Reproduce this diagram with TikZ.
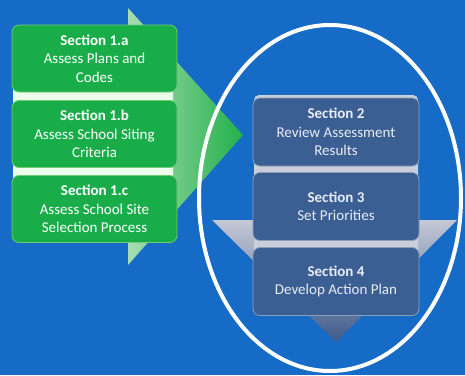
\documentclass[tikz,border=0pt]{standalone}
\usepackage{fontspec}
\setmainfont{Carlito}
\begin{document}
\begin{tikzpicture}[x=1pt,y=-1pt,
  greenbox/.style={draw=green!45!white!80!black, line width=0.8pt, fill=gbox, rounded corners=7pt, minimum width=165pt, minimum height=67pt, inner sep=0pt, text=white, align=center, font=\fontsize{15}{18.5}\selectfont},
  bluebox/.style={draw=bborder, line width=0.8pt, fill=bbox, rounded corners=7pt, minimum width=166pt, minimum height=68pt, inner sep=0pt, text=btext, align=center, font=\fontsize{15}{18.5}\selectfont}]
\definecolor{bg}{HTML}{156BC6}
\definecolor{gbox}{HTML}{19AD4A}
\definecolor{bbox}{HTML}{3B5E93}
\definecolor{bborder}{HTML}{8A9CBC}
\definecolor{btext}{HTML}{E8EDF4}
\definecolor{gpale}{HTML}{A8DCB2}
\definecolor{gstrong}{HTML}{22B04A}
\definecolor{greytop}{HTML}{C4C8D6}
\definecolor{greybot}{HTML}{3F5B8C}
\useasboundingbox (0,0) rectangle (465,375);
\fill[bg] (0,0) rectangle (465,375);
% green arrow
\shade[left color=gpale, right color=gstrong] (128,8) -- (243,135) -- (128,265) -- cycle;
% pale strip behind green boxes
\fill[green!8!white, rounded corners=6pt] (13,28) rectangle (173,240);
% green boxes
\node[greenbox] (s1a) at (94.5,58.5) {\textbf{Section 1.a}\\Assess Plans and\\Codes};
\node[greenbox] (s1b) at (94.5,134) {\textbf{Section 1.b}\\Assess School Siting\\Criteria};
\node[greenbox] (s1c) at (94.5,209) {\textbf{Section 1.c}\\Assess School Site\\Selection Process};
% grey down arrow
\shade[top color=greytop, bottom color=greybot] (212,220) -- (457,220) -- (336,342) -- cycle;
% pale strip behind blue boxes
\fill[greytop!90!white, rounded corners=5pt] (254,95) rectangle (418,312);
% blue boxes
\node[bluebox] (s2) at (336,132) {\textbf{Section 2}\\Review Assessment\\Results};
\node[bluebox] (s3) at (336,206.5) {\textbf{Section 3}\\Set Priorities};
\node[bluebox] (s4) at (336,281.5) {\textbf{Section 4}\\Develop Action Plan};
% ellipse
\draw[white, line width=4pt] (330,198) ellipse [x radius=131, y radius=173];
\end{tikzpicture}
\end{document}
